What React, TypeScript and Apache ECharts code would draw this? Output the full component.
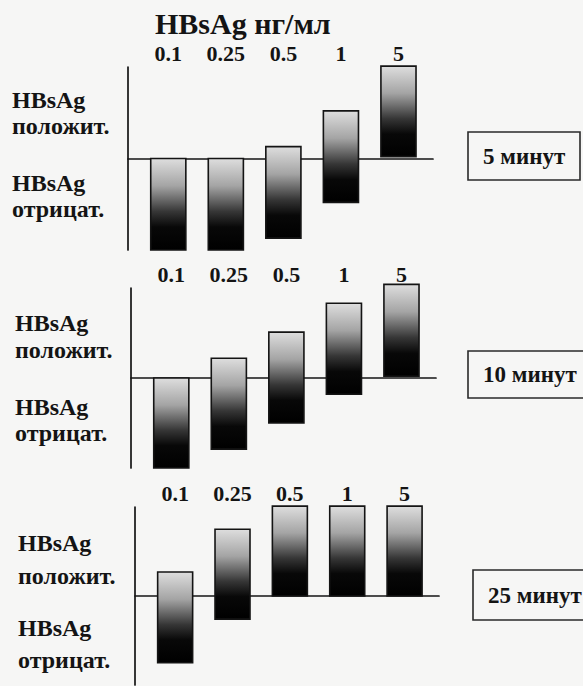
import React, { useEffect, useRef } from "react";
import * as echarts from "echarts";

const categories = ["0.1", "0.25", "0.5", "1", "5"];
const panelNames = ["5 минут", "10 минут", "25 минут"];
const chartTitle = "HBsAg нг/мл";
const posLabel = ["HBsAg", "положит."];
const negLabel = ["HBsAg", "отрицат."];

// floating bars: low and high end of each bar (baseline = 0, axis spans -10..10)
const lows5 = [-10, -10, -8.7, -4.8, 0.2];
const highs5 = [0, 0, 1.3, 5.2, 10.1];
const lows10 = [-10, -7.9, -5.0, -1.8, 0.2];
const highs10 = [0, 2.2, 5.1, 8.3, 10.4];
const lows25 = [-7.5, -2.6, 0, 0, 0];
const highs25 = [2.7, 7.5, 10.1, 10.1, 10.1];

const panelsLows = [lows5, lows10, lows25];
const panelsHighs = [highs5, highs10, highs25];

const FONT = "Liberation Serif, DejaVu Serif, serif";
const INK = "#141414";

// layout
const grids = [
  { left: 128, top: 67, width: 305, height: 183 },
  { left: 131, top: 288, width: 305, height: 180 },
  { left: 135, top: 507, width: 304, height: 178 },
];
const sideLabelX = [12, 15, 18];
const sideLabelY = [
  [100, 126, 183, 209],
  [323, 350, 407, 433],
  [543, 576, 628, 660],
];
const boxes = [
  { x: 468, y: 132, w: 112, h: 48 },
  { x: 468, y: 351, w: 130, h: 47 },
  { x: 473, y: 570, w: 125, h: 50 },
];

export default function App() {
  const ref = useRef<HTMLDivElement>(null);
  useEffect(() => {
    if (!ref.current) return;
    const chart = echarts.init(ref.current, undefined, { renderer: "svg" });

    const xAxes: any[] = [];
    const yAxes: any[] = [];
    const series: any[] = [];
    grids.forEach((g, k) => {
      xAxes.push({
        type: "value",
        gridIndex: k,
        min: -0.7,
        max: 4.6,
        axisLine: { show: true, onZero: true, lineStyle: { color: INK, width: 1.7 } },
        axisTick: { show: false },
        axisLabel: { show: false },
        splitLine: { show: false },
      });
      xAxes.push({
        type: "value",
        gridIndex: k,
        position: "top",
        min: -0.7,
        max: 4.6,
        axisLine: { show: false, onZero: false },
        axisTick: { show: false },
        splitLine: { show: false },
        axisLabel: {
          show: true,
          customValues: [0, 1, 2, 3, 4],
          formatter: (v: number) => categories[Math.round(v)] ?? "",
          fontSize: 22,
          fontWeight: "bold",
          fontFamily: FONT,
          color: INK,
          margin: 3,
        },
      });
      yAxes.push({
        type: "value",
        gridIndex: k,
        min: -10,
        max: 10,
        axisLine: { show: true, onZero: false, lineStyle: { color: INK, width: 1.7 } },
        axisTick: { show: false },
        axisLabel: { show: false },
        splitLine: { show: false },
      });
      const lows = panelsLows[k];
      const highs = panelsHighs[k];
      series.push({
        type: "custom",
        xAxisIndex: 2 * k,
        yAxisIndex: k,
        data: categories.map((_, i) => [i, lows[i], highs[i]]),
        encode: { x: 0, y: [1, 2] },
        renderItem: (params: any, api: any) => {
          const x = api.value(0);
          const top = api.coord([x, api.value(2)]);
          const bot = api.coord([x, api.value(1)]);
          const w = api.size([1, 0])[0] * 0.61;
          return {
            type: "rect",
            shape: { x: top[0] - w / 2, y: top[1], width: w, height: bot[1] - top[1] },
            style: {
              fill: new echarts.graphic.LinearGradient(0, 0, 0, 1, [
                { offset: 0, color: "#dedede" },
                { offset: 0.3, color: "#a4a4a4" },
                { offset: 0.58, color: "#363636" },
                { offset: 0.75, color: "#080808" },
                { offset: 1, color: "#000000" },
              ]),
              stroke: INK,
              lineWidth: 1.6,
            },
          };
        },
      });
    });

    const txt = (x: number, y: number, text: string, size: number) => ({
      type: "text",
      x,
      y,
      style: {
        text,
        fontFamily: FONT,
        fontWeight: "bold",
        fontSize: size,
        fill: INK,
        verticalAlign: "middle",
      },
    });

    const graphics: any[] = [txt(155, 23, chartTitle, 30)];
    grids.forEach((_, k) => {
      const lines = [...posLabel, ...negLabel];
      lines.forEach((t, j) => {
        graphics.push(txt(sideLabelX[k], sideLabelY[k][j], t, 24));
      });
      const b = boxes[k];
      graphics.push({
        type: "rect",
        shape: { x: b.x, y: b.y, width: b.w, height: b.h },
        style: { fill: "rgba(255,255,255,0)", stroke: "#2a2a2a", lineWidth: 1.6 },
      });
      graphics.push(txt(b.x + 15, b.y + b.h / 2, panelNames[k], 23));
    });

    chart.setOption({
      animation: false,
      backgroundColor: "#f6f6f5",
      grid: grids.map((g) => ({ ...g, containLabel: false })),
      xAxis: xAxes,
      yAxis: yAxes,
      series,
      graphic: graphics,
    });
    return () => chart.dispose();
  }, []);
  return (
    <div
      ref={ref}
      style={{ position: "absolute", left: 0, top: 0, width: 583, height: 686 }}
    />
  );
}
